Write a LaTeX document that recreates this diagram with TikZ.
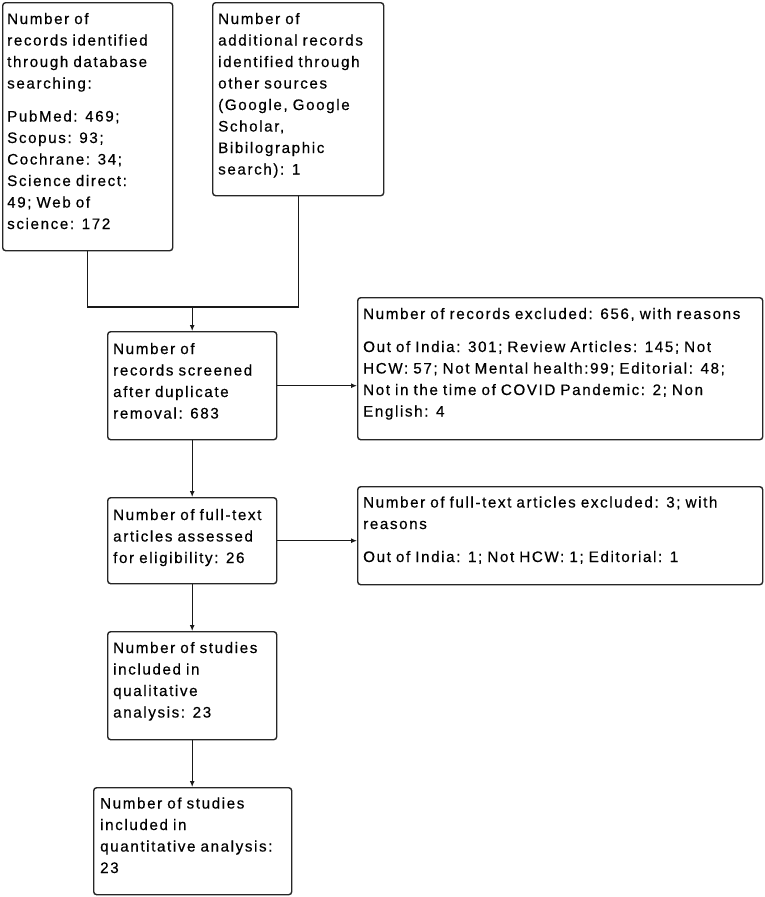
\documentclass[tikz,border=0pt]{standalone}
\usepackage{fontspec}
\setmainfont{Liberation Sans}[LetterSpace=10.5,FakeBold=0.4]
\usetikzlibrary{arrows.meta,calc}
\begin{document}
\begin{tikzpicture}[x=1pt,y=-1pt,
  box/.style={draw=black!85, line width=1.4pt, rounded corners=3pt, inner sep=0pt, anchor=north west},
  txt/.style={anchor=base west, inner sep=0pt, align=left, text=black, font=\fontsize{15.2}{21.5}\selectfont},
  conn/.style={line width=1.4pt, draw=black!90},
  arr/.style={conn, -{Latex[length=6pt,width=5pt]}}]
\useasboundingbox (0,0) rectangle (764,897);
\fill[white] (0,0) rectangle (764,897);
% boxes
\node[box, minimum width=170pt, minimum height=248pt] (A) at (2,2) {};
\node[box, minimum width=171pt, minimum height=193pt] (B) at (212,2) {};
\node[box, minimum width=169pt, minimum height=108pt] (C) at (107,331) {};
\node[box, minimum width=405pt, minimum height=142pt] (D) at (357,297) {};
\node[box, minimum width=169pt, minimum height=86pt] (E) at (107,497) {};
\node[box, minimum width=405pt, minimum height=98pt] (F) at (357,486) {};
\node[box, minimum width=169pt, minimum height=108pt] (G) at (107,631) {};
\node[box, minimum width=198pt, minimum height=107pt] (H) at (93,787) {};
% texts
\node[txt, text width=166pt] (At) at ($(A.north west)+(5,22)$) {Number of\\records identified\\through database\\searching:\\[11.5pt]PubMed: 469;\\Scopus: 93;\\Cochrane: 34;\\Science direct:\\49; Web of\\science: 172};
\node[txt, text width=166pt] (Bt) at ($(B.north west)+(6,22)$) {Number of\\additional records\\identified through\\other sources\\(Google, Google\\Scholar,\\Bibilographic\\search): 1};
\node[txt, text width=165pt] (Ct) at ($(C.north west)+(6,23)$) {Number of\\records screened\\after duplicate\\removal: 683};
\node[txt, text width=400pt] (Dt) at ($(D.north west)+(6,22)$) {Number of records excluded: 656, with reasons\\[11.5pt]Out of India: 301; Review Articles: 145; Not\\HCW: 57; Not Mental health:99; Editorial: 48;\\Not in the time of COVID Pandemic: 2; Non\\English: 4};
\node[txt, text width=165pt] (Et) at ($(E.north west)+(6,23)$) {Number of full-text\\articles assessed\\for eligibility: 26};
\node[txt, text width=400pt] (Ft) at ($(F.north west)+(6,21.5)$) {Number of full-text articles excluded: 3; with\\reasons\\[11.5pt]Out of India: 1; Not HCW: 1; Editorial: 1};
\node[txt, text width=165pt] (Gt) at ($(G.north west)+(6,22)$) {Number of studies\\included in\\qualitative\\analysis: 23};
\node[txt, text width=195pt] (Ht) at ($(H.north west)+(7,21.5)$) {Number of studies\\included in\\quantitative analysis:\\23};
% connectors
\path (C.north) ++(0,-24) coordinate (J);
\draw[conn] (A.south) |- (J) -| (B.south);
\draw[arr] (J) -- (C.north);
\draw[arr] (C.east) -- (D.west |- C.east);
\draw[arr] (C.south) -- (E.north);
\draw[arr] (E.east) -- (F.west |- E.east);
\draw[arr] (E.south) -- (G.north);
\draw[arr] (G.south) -- (G.south |- H.north);
\end{tikzpicture}
\end{document}
